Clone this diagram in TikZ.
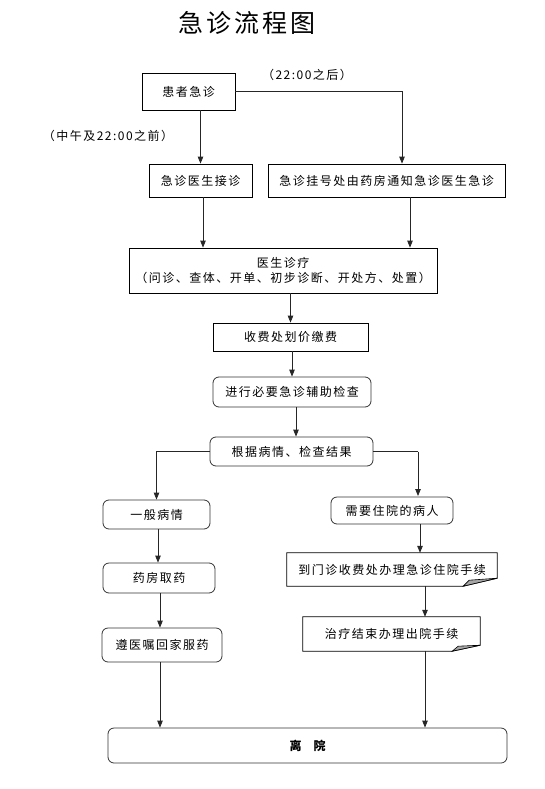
\documentclass[tikz,border=0pt]{standalone}
\usepackage{fontspec}
\setmainfont{Noto Sans CJK SC}[LetterSpace=12.5]
\usetikzlibrary{arrows.meta,calc}
\begin{document}
\begin{tikzpicture}[x=1pt,y=-1pt,
  every node/.style={font=\fontsize{12}{15}\selectfont, inner sep=0pt},
  sq/.style={draw=black, line width=0.8pt, rectangle},
  rnd/.style={draw=black!80, line width=0.8pt, rectangle, rounded corners=6pt},
  plain/.style={draw=none},
  arr/.style={draw=black!85, line width=0.8pt, -{Triangle[width=5.5pt,length=7pt]}},
  ln/.style={draw=black!85, line width=0.8pt}]
\useasboundingbox (0,0) rectangle (544,789);

\node[font=\fontsize{25}{28}\selectfont] (title) at (247,23) {急诊流程图};

\node[sq, minimum width=93pt, minimum height=37pt] (p) at (188.5,91.5) {患者急诊};
\node (after) at (307,75) {（22:00之后）};
\node (before) at (108,136) {（中午及22:00之前）};

\node[sq, minimum width=103pt, minimum height=33pt] (j) at (200.5,180.5) {急诊医生接诊};
\node[sq, minimum width=237pt, minimum height=33pt] (g) at (386.5,180.5) {急诊挂号处由药房通知急诊医生急诊};

\node[sq, minimum width=308pt, minimum height=45pt, align=center] (d) at (283,270.5) {医生诊疗\\（问诊、查体、开单、初步诊断、开处方、处置）};

\node[sq, minimum width=155pt, minimum height=28pt] (f) at (290.5,337) {收费处划价缴费};
\node[rnd, minimum width=158pt, minimum height=30pt] (c) at (292,392) {进行必要急诊辅助检查};
\node[rnd, minimum width=163pt, minimum height=29pt] (r) at (291.5,451.5) {根据病情、检查结果};

\node[rnd, minimum width=107pt, minimum height=29pt] (y1) at (156.5,514.5) {一般病情};
\node[rnd, minimum width=122pt, minimum height=27pt] (h) at (392,510.5) {需要住院的病人};

\node[rnd, minimum width=112pt, minimum height=30pt] (yf) at (159,578) {药房取药};
\node[rnd, minimum width=120pt, minimum height=34pt] (z) at (162,645) {遵医嘱回家服药};

% folded-corner boxes
\node[plain, minimum width=210pt, minimum height=33pt] (m) at (392,569.5) {到门诊收费处办理急诊住院手续};
\draw[line width=0.8pt] (m.north west) -- (m.north east) -- ($(m.south east)+(0,-8)$) -- ($(m.south east)+(-34,0)$) -- (m.south west) -- cycle;
\draw[line width=0.6pt, fill=black!35] ($(m.south east)+(-34,0)$) -- ($(m.south east)+(-28,-6)$) -- ($(m.south east)+(0,-8)$) -- cycle;

\node[plain, minimum width=177pt, minimum height=34pt] (t) at (391.5,634) {治疗结束办理出院手续};
\draw[line width=0.8pt] (t.north west) -- (t.north east) -- ($(t.south east)+(0,-6)$) -- ($(t.south east)+(-28,0)$) -- (t.south west) -- cycle;
\draw[line width=0.6pt, fill=black!35] ($(t.south east)+(-28,0)$) -- ($(t.south east)+(-22,-5)$) -- ($(t.south east)+(0,-6)$) -- cycle;

\node[rnd, minimum width=399pt, minimum height=35pt, font=\fontsize{12}{15}\selectfont\bfseries] (l) at (307.5,745.5) {离\hspace{12pt}院};

% connectors
\draw[arr] (p.south -| j.north) -- (j.north);
\coordinate (gk) at ($(g.north)+(15.5,0)$);
\draw[arr] (p.east) -| (gk);

\coordinate (js) at ($(j.south)+(2.5,0)$);
\draw[arr] (js) -- (js |- d.north);
\coordinate (gs) at ($(g.south)+(23.5,0)$);
\draw[arr] (gs) -- (gs |- d.north);

\draw[arr] (f.north |- d.south) -- (f.north);
\draw[arr] (c.north |- f.south) -- (c.north);
\coordinate (cs) at ($(c.south)+(4,0)$);
\draw[arr] (cs) -- (cs |- r.north);

\draw[arr] (r.west) -| (y1.north);
\coordinate (rk) at (418,451.5);
\coordinate (hk) at (418,496);
\draw[ln] (r.east) -- (rk);
\draw[arr] (rk) -- (hk);

\coordinate (ys) at ($(y1.south)+(1.5,0)$);
\draw[arr] (ys) -- (ys |- yf.north);
\coordinate (hs) at ($(h.south)+(28,0)$);
\draw[arr] (hs) -- (hs |- m.north);

\coordinate (yfs) at ($(yf.south)+(1,0)$);
\draw[arr] (yfs) -- (yfs |- z.north);
\coordinate (ms) at ($(m.south)+(33,0)$);
\draw[arr] (ms) -- (ms |- t.north);

\coordinate (zs) at ($(z.south)+(-2,0)$);
\draw[arr] (zs) -- (zs |- l.north);
\coordinate (ts) at ($(t.south)+(33.5,0)$);
\draw[arr] (ts) -- (ts |- l.north);
\end{tikzpicture}
\end{document}
